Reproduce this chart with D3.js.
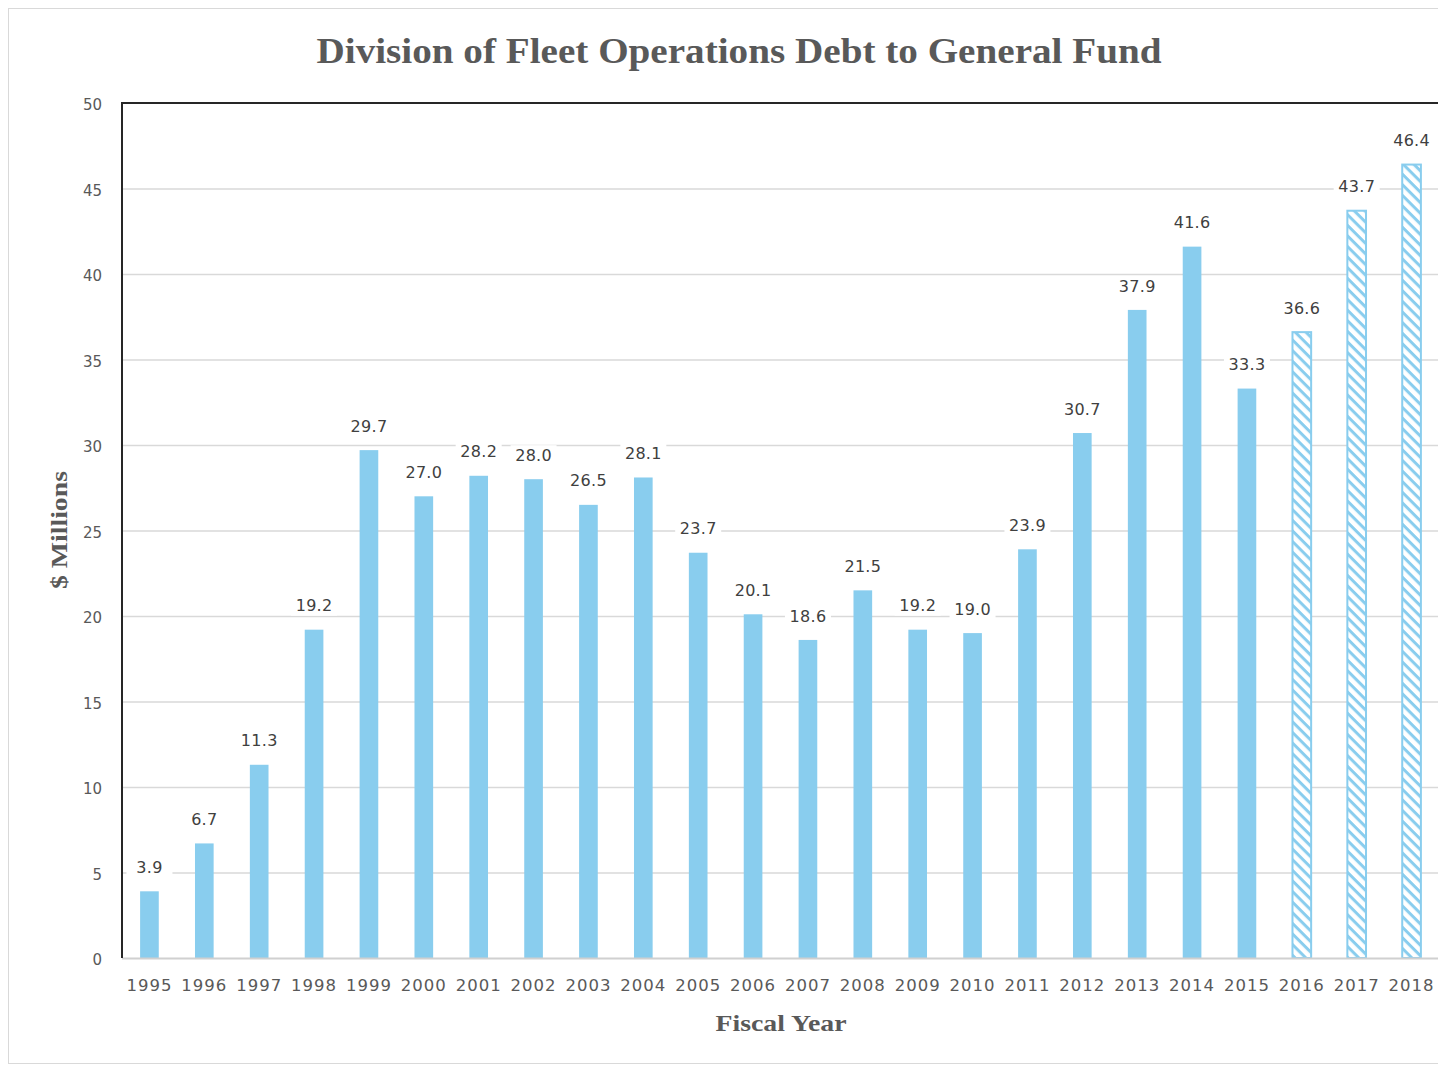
<!DOCTYPE html>
<html>
<head>
<meta charset="utf-8">
<script src="https://cdn.jsdelivr.net/npm/d3@7"></script>
<style>
  body { margin: 0; background: #fff; }
  svg { display: block; }
</style>
</head>
<body>
<div id="container"></div>
<script>
// data
let years = ["1995","1996","1997","1998","1999","2000","2001","2002","2003","2004","2005","2006",
             "2007","2008","2009","2010","2011","2012","2013","2014","2015","2016","2017","2018"];
let debt = [3.9, 6.7, 11.3, 19.2, 29.7, 27.0, 28.2, 28.0, 26.5, 28.1, 23.7, 20.1,
            18.6, 21.5, 19.2, 19.0, 23.9, 30.7, 37.9, 41.6, 33.3, 36.6, 43.7, 46.4];
let projectedYears = ["2016", "2017", "2018"];
let yTicks = [0, 5, 10, 15, 20, 25, 30, 35, 40, 45, 50];

let w = 1438, h = 1066;
let plotL = 122, plotR = 1439, plotT = 103, plotB = 958;
let blue = "#89CDEE";
let grey = "#595959";

let svg = d3.select("#container").append("svg")
  .attr("width", w)
  .attr("height", h);

// hatch pattern for projected years (stripes running down to the right)
let defs = svg.append("defs");
let pat = defs.append("pattern")
  .attr("id", "hatch")
  .attr("patternUnits", "userSpaceOnUse")
  .attr("width", 7.5).attr("height", 7.5)
  .attr("patternTransform", "rotate(45)");
pat.append("rect").attr("width", 7.5).attr("height", 7.5).attr("fill", "#fff");
pat.append("rect").attr("width", 7.5).attr("height", 3).attr("fill", blue);

// outer frame
svg.append("rect")
  .attr("x", 8.5).attr("y", 8.5)
  .attr("width", w + 20).attr("height", 1055)
  .attr("fill", "none")
  .attr("stroke", "#d9d9d9");

let x = d3.scaleBand().domain(years).range([plotL, plotR]).paddingInner(0.66).paddingOuter(0.33);
let y = d3.scaleLinear().domain([0, 50]).range([plotB, plotT]);

// gridlines
svg.append("g").selectAll("line")
  .data(yTicks.filter(d => d > 0 && d < 50))
  .enter().append("line")
    .attr("x1", plotL).attr("x2", w)
    .attr("y1", d => y(d) + 0.5).attr("y2", d => y(d) + 0.5)
    .attr("stroke", "#d9d9d9").attr("stroke-width", 1.3);

// y axis labels
let yAxis = d3.axisLeft(y).tickValues(yTicks).tickSize(0).tickPadding(20);
let yg = svg.append("g").attr("transform", `translate(${plotL},2)`).call(yAxis);
yg.select(".domain").remove();
yg.selectAll("text")
  .attr("fill", grey)
  .style("font-family", "'DejaVu Sans', sans-serif")
  .style("font-size", "15px");

// bars
svg.append("g").selectAll("rect")
  .data(years)
  .enter().append("rect")
    .attr("x", (d) => x(d))
    .attr("width", x.bandwidth())
    .attr("y", (d, i) => y(debt[i]))
    .attr("height", (d, i) => y(0) - y(debt[i]))
    .attr("fill", d => projectedYears.includes(d) ? "url(#hatch)" : blue)
    .attr("stroke", d => projectedYears.includes(d) ? blue : "none")
    .attr("stroke-width", 2);

// baseline
svg.append("line")
  .attr("x1", plotL).attr("x2", w)
  .attr("y1", plotB + 0.5).attr("y2", plotB + 0.5)
  .attr("stroke", "#d0d0d0").attr("stroke-width", 2);

// plot frame: top and left
svg.append("path")
  .attr("d", `M${w},${plotT} H${plotL} V${plotB}`)
  .attr("fill", "none")
  .attr("stroke", "#262626")
  .attr("stroke-width", 2);

// data labels with white background
let labelG = svg.append("g").selectAll("g")
  .data(years)
  .enter().append("g")
    .attr("transform", (d, i) => `translate(${x(d) + x.bandwidth() / 2},${y(debt[i]) - 24})`);
labelG.append("rect")
  .attr("x", -23).attr("y", -10)
  .attr("width", 46).attr("height", 20)
  .attr("fill", "#fff");
labelG.append("text")
  .attr("text-anchor", "middle")
  .attr("dy", "0.35em")
  .attr("fill", "#404040")
  .style("font-family", "'DejaVu Sans', sans-serif")
  .style("font-size", "16px")
  .style("letter-spacing", "0.3px")
  .text((d, i) => debt[i].toFixed(1));

// x axis labels
let xAxis = d3.axisBottom(x).tickSize(0).tickPadding(21);
let xg = svg.append("g").attr("transform", `translate(0,${plotB})`).call(xAxis);
xg.select(".domain").remove();
xg.selectAll("text")
  .attr("fill", grey)
  .style("font-family", "'DejaVu Sans', sans-serif")
  .style("font-size", "16.5px")
  .style("letter-spacing", "1px");

// title
svg.append("text")
  .attr("x", 739).attr("y", 63)
  .attr("text-anchor", "middle")
  .attr("fill", grey)
  .attr("textLength", 845)
  .attr("lengthAdjust", "spacingAndGlyphs")
  .style("font-family", "'Liberation Serif', serif")
  .style("font-weight", "bold")
  .style("font-size", "35px")
  .text("Division of Fleet Operations Debt to General Fund");

// axis titles
svg.append("text")
  .attr("transform", "translate(67,530) rotate(-90)")
  .attr("text-anchor", "middle")
  .attr("fill", grey)
  .attr("textLength", 118)
  .attr("lengthAdjust", "spacingAndGlyphs")
  .style("font-family", "'Liberation Serif', serif")
  .style("font-weight", "bold")
  .style("font-size", "24px")
  .text("$ Millions");

svg.append("text")
  .attr("x", 781).attr("y", 1031)
  .attr("text-anchor", "middle")
  .attr("fill", grey)
  .attr("textLength", 131)
  .attr("lengthAdjust", "spacingAndGlyphs")
  .style("font-family", "'Liberation Serif', serif")
  .style("font-weight", "bold")
  .style("font-size", "24px")
  .text("Fiscal Year");
</script>
</body>
</html>
